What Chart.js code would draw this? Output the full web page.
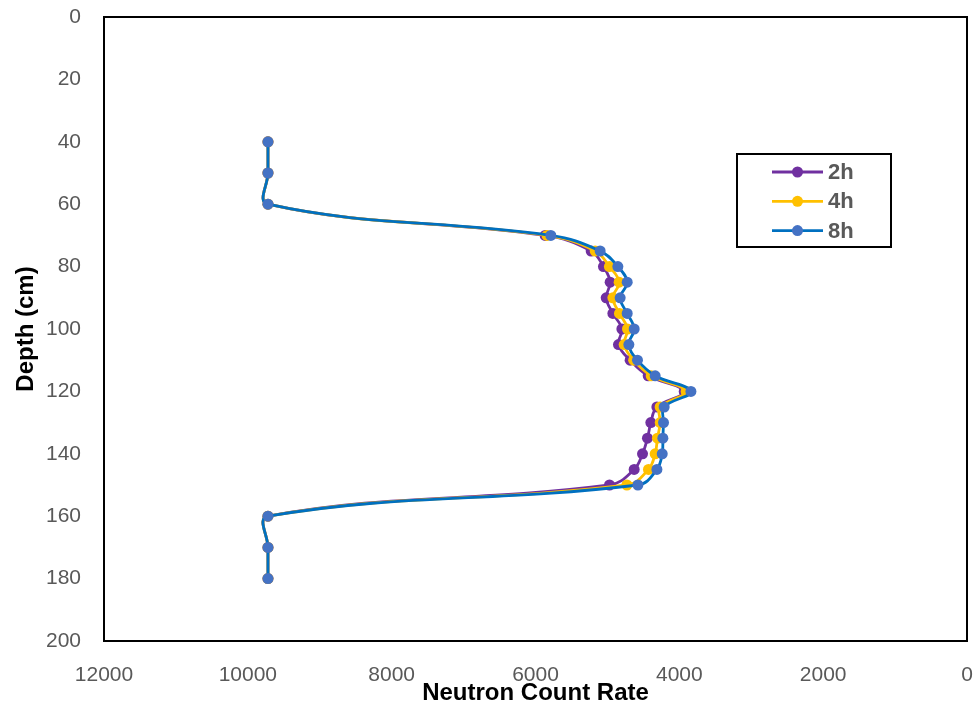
<!DOCTYPE html>
<html>
<head>
<meta charset="utf-8">
<script src="https://cdn.jsdelivr.net/npm/chart.js@4.4.1/dist/chart.umd.min.js"></script>
<style>
  html, body { margin: 0; padding: 0; background: #ffffff; }
  #wrap { width: 978px; height: 708px; }
</style>
</head>
<body>
<div id="wrap"><canvas id="chart" width="978" height="708"></canvas></div>
<script>
// Depth of each reading (cm)
const depths = [40, 50, 60, 70, 75, 80, 85, 90, 95, 100, 105, 110, 115, 120, 125, 130, 135, 140, 145, 150, 160, 170, 180];

// Neutron count rate at each depth, one array per elapsed time
const rate2h = [9720, 9720, 9720, 5866, 5226, 5055, 4962, 5017, 4924, 4799, 4846, 4684, 4433, 3932, 4312, 4396, 4443, 4512, 4628, 4971, 9720, 9720, 9720];
const rate4h = [9720, 9720, 9720, 5840, 5170, 4972, 4837, 4924, 4832, 4721, 4767, 4635, 4391, 3905, 4267, 4266, 4304, 4336, 4429, 4729, 9720, 9720, 9720];
const rate8h = [9720, 9720, 9720, 5787, 5101, 4855, 4725, 4823, 4725, 4628, 4702, 4582, 4336, 3839, 4211, 4220, 4229, 4238, 4312, 4576, 9720, 9720, 9720];

const seriesNames = ['2h', '4h', '8h'];

// Axis ranges and tick steps
const xTicks = [0, 2000, 4000, 6000, 8000, 10000, 12000];
const yTicks = [0, 20, 40, 60, 80, 100, 120, 140, 160, 180, 200];

const toPoints = (rates) => rates.map((r, i) => ({ x: r, y: depths[i] }));

const TICK_FONT = { family: "'Liberation Sans', Arial, sans-serif", size: 21 };
const TITLE_FONT = { family: "'Liberation Sans', Arial, sans-serif", size: 24, weight: 'bold' };
const TICK_COLOR = '#595959';

// Frame around the plotting area
const frame = {
  id: 'frame',
  afterDatasetsDraw(chart) {
    const { ctx, chartArea: a } = chart;
    ctx.save();
    ctx.strokeStyle = '#000000';
    ctx.lineWidth = 2;
    ctx.strokeRect(a.left, a.top, a.right - a.left, a.bottom - a.top);
    ctx.restore();
  }
};

// Boxed legend inside the plotting area
const boxedLegend = {
  id: 'boxedLegend',
  afterDraw(chart, args, opts) {
    const { ctx } = chart;
    const b = opts.box;
    ctx.save();
    ctx.fillStyle = '#ffffff';
    ctx.fillRect(b.x, b.y, b.w, b.h);
    ctx.strokeStyle = '#000000';
    ctx.lineWidth = 2;
    ctx.strokeRect(b.x, b.y, b.w, b.h);
    chart.data.datasets.forEach((ds, i) => {
      const y = opts.firstRowY + i * opts.rowGap;
      ctx.strokeStyle = ds.borderColor;
      ctx.lineWidth = ds.borderWidth;
      ctx.beginPath();
      ctx.moveTo(opts.lineX0, y);
      ctx.lineTo(opts.lineX1, y);
      ctx.stroke();
      ctx.fillStyle = ds.pointBackgroundColor;
      ctx.beginPath();
      ctx.arc((opts.lineX0 + opts.lineX1) / 2, y, ds.pointRadius, 0, Math.PI * 2);
      ctx.fill();
      ctx.fillStyle = TICK_COLOR;
      ctx.font = "bold 22px 'Liberation Sans', Arial, sans-serif";
      ctx.textAlign = 'left';
      ctx.textBaseline = 'middle';
      ctx.fillText(ds.label, opts.textX, y + 1);
    });
    ctx.restore();
  }
};

const makeSeries = (label, rates, lineColor, pointColor, order) => ({
  label,
  data: toPoints(rates),
  showLine: true,
  tension: 0.4,
  borderColor: lineColor,
  borderWidth: 2.8,
  pointRadius: 5.5,
  pointBackgroundColor: pointColor,
  pointBorderColor: pointColor,
  pointBorderWidth: 0,
  order
});

new Chart(document.getElementById('chart'), {
  type: 'scatter',
  data: {
    datasets: [
      makeSeries(seriesNames[0], rate2h, '#7030A0', '#7030A0', 3),
      makeSeries(seriesNames[1], rate4h, '#FFC000', '#FFC000', 2),
      makeSeries(seriesNames[2], rate8h, '#0070C0', '#4472C4', 1)
    ]
  },
  options: {
    responsive: false,
    animation: false,
    layout: { padding: { top: 17, right: 11, left: 0, bottom: 0 } },
    plugins: {
      legend: { display: false },
      tooltip: { enabled: false },
      boxedLegend: {
        box: { x: 737, y: 154, w: 154, h: 93 },
        lineX0: 772, lineX1: 823, textX: 828,
        firstRowY: 172, rowGap: 29.3
      }
    },
    scales: {
      x: {
        type: 'linear',
        reverse: true,
        min: xTicks[0],
        max: xTicks[xTicks.length - 1],
        afterBuildTicks: (s) => { s.ticks = xTicks.map(v => ({ value: v })); },
        afterFit: (s) => { s.height = 67; s.paddingLeft = 0; s.paddingRight = 0; },
        grid: { display: false, drawTicks: false },
        border: { display: false },
        ticks: { color: TICK_COLOR, font: TICK_FONT, padding: 22, maxRotation: 0, autoSkip: false, callback: (v) => String(v) },
        title: { display: true, text: 'Neutron Count Rate', color: '#000000', font: TITLE_FONT, padding: { top: 0, bottom: 0 } }
      },
      y: {
        type: 'linear',
        reverse: true,
        min: yTicks[0],
        max: yTicks[yTicks.length - 1],
        afterBuildTicks: (s) => { s.ticks = yTicks.map(v => ({ value: v })); },
        afterFit: (s) => { s.width = 104; s.paddingTop = 0; s.paddingBottom = 0; },
        grid: { display: false, drawTicks: false },
        border: { display: false },
        ticks: { color: TICK_COLOR, font: TICK_FONT, padding: 23, autoSkip: false, callback: (v) => String(v) },
        title: { display: true, text: 'Depth (cm)', color: '#000000', font: TITLE_FONT, padding: { top: 12, bottom: 0 } }
      }
    }
  },
  plugins: [frame, boxedLegend]
});
</script>
</body>
</html>
